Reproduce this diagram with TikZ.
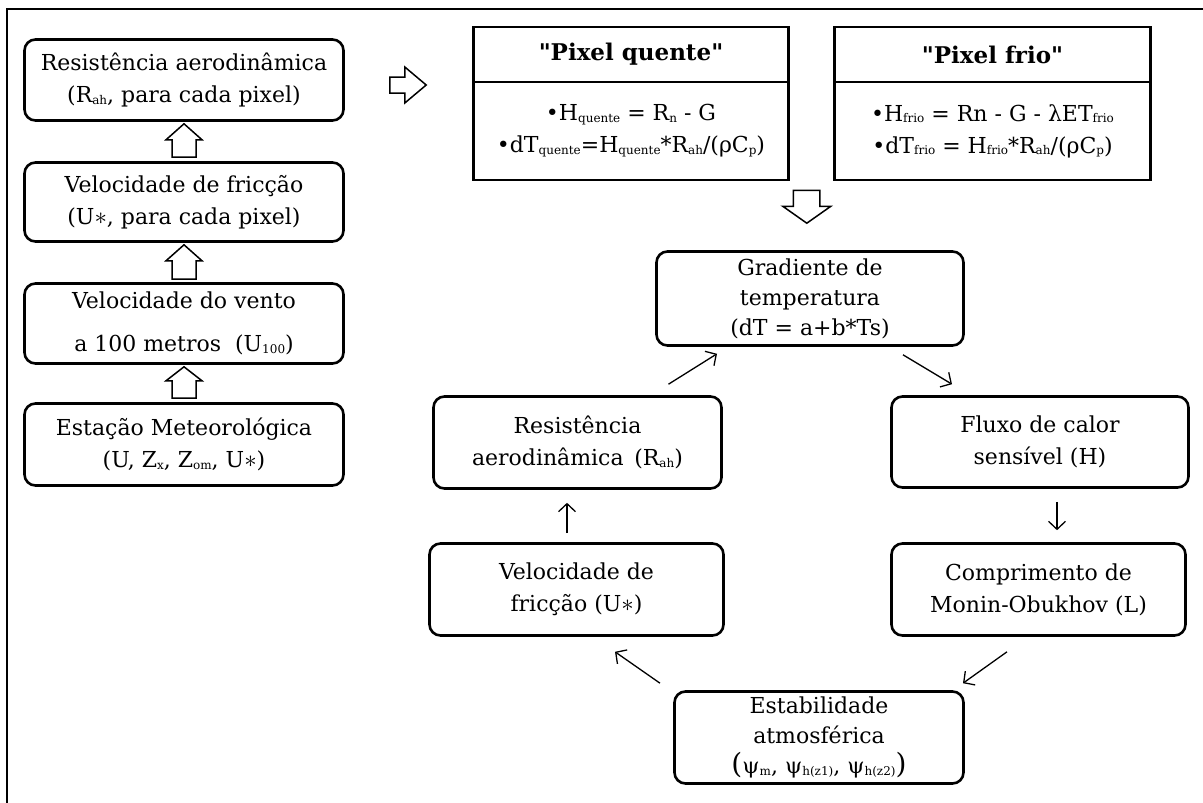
\documentclass[tikz,border=0pt]{standalone}
\usepackage{fontspec}
\setmainfont{DejaVu Serif}
\usetikzlibrary{arrows.meta,calc}
\newcommand\lsub[1]{\raisebox{-1.5pt}{\fontsize{12}{12}\selectfont #1}}
\newcommand\ustar{{\fontsize{28}{28}\selectfont$\ast$}}
\newcommand\fsz{\fontsize{22}{32}\selectfont}
\newcommand\bsz{\fontsize{23}{30}\selectfont\bfseries}
\begin{document}
\begin{tikzpicture}[x=1pt,y=-1pt,
  box/.style={draw, line width=2.6pt, rounded corners=11pt, align=center, inner sep=0pt, font=\fsz},
  pbox/.style={draw, line width=2.6pt, align=center, inner sep=0pt, font=\fsz},
  conn/.style={line width=1.3pt, -{Straight Barb[length=8pt,width=17pt,line width=1.3pt]}},
  hollow/.style={draw, line width=1.5pt, fill=white, line join=miter}]
\useasboundingbox (0,0) rectangle (1203,803);
\draw[line width=2.5pt] (7,803) -- (7,9) -- (1203,9);

% left column
\node[box, minimum width=319pt, minimum height=81pt] (b1) at (184,80)
  {Resistência aerodinâmica\\(R\lsub{ah}, para cada pixel)};
\node[box, minimum width=319pt, minimum height=79pt] (b2) at (184,202)
  {Velocidade de fricção\\(U\ustar, para cada pixel)};
\node[box, minimum width=319pt, minimum height=80pt, font=\fontsize{22}{43}\selectfont] (b3) at (184,323.5)
  {Velocidade do vento\\a 100 metros \ (U\lsub{100})};
\node[box, minimum width=319pt, minimum height=82pt] (b4) at (184,444.5)
  {Estação Meteorológica\\(U, Z\lsub{x}, Z\lsub{om}, U\ustar)};

% pixel boxes
\node[pbox, minimum width=315pt, minimum height=55pt, font=\bsz] (qT) at (631,54.5) {\textquotedbl Pixel quente\textquotedbl};
\node[pbox, minimum width=315pt, minimum height=98pt] (qB) at (631,131)
  {•H\lsub{quente} = R\lsub{n} - G\\•dT\lsub{quente}=H\lsub{quente}*R\lsub{ah}/(ρC\lsub{p})};
\node[pbox, minimum width=316pt, minimum height=55pt, font=\bsz] (fT) at (992.5,54.5) {\textquotedbl Pixel frio\textquotedbl};
\node[pbox, minimum width=316pt, minimum height=98pt] (fB) at (992.5,131)
  {•H\lsub{frio} = Rn - G - λET\lsub{frio}\\•dT\lsub{frio} = H\lsub{frio}*R\lsub{ah}/(ρC\lsub{p})};

% cycle
\node[box, minimum width=307pt, minimum height=94pt, font=\fontsize{22}{30}\selectfont] (grad) at (810,298.5)
  {Gradiente de\\temperatura\\(dT = a+b*Ts)};
\node[box, minimum width=288pt, minimum height=92pt] (rah) at (577.5,442.5)
  {Resistência\\aerodinâmica \,(R\lsub{ah})};
\node[box, minimum width=297pt, minimum height=91pt] (fluxo) at (1040,442)
  {Fluxo de calor\\sensível (H)};
\node[box, minimum width=294pt, minimum height=92pt] (ustar) at (576.5,589.5)
  {Velocidade de\\fricção (U\ustar)};
\node[box, minimum width=294pt, minimum height=92pt] (comp) at (1038.5,589.5)
  {Comprimento de\\Monin-Obukhov (L)};
\node[box, minimum width=289pt, minimum height=92pt, font=\fontsize{22}{30}\selectfont] (estab) at (819,737.5)
  {Estabilidade\\atmosférica\\{\fontsize{22}{22}\selectfont{\fontsize{28}{28}\selectfont(}ψ\lsub{m}, ψ\lsub{h(z1)}, ψ\lsub{h(z2)}{\fontsize{28}{28}\selectfont)}}};

% thin connectors
\draw[conn] ([xshift=91pt,yshift=11pt]rah.north) -- ([xshift=-93pt,yshift=-7pt]grad.south);
\draw[conn] ([xshift=93pt,yshift=-8pt]grad.south) -- ([xshift=-88pt,yshift=11pt]fluxo.north);
\draw[conn] ([xshift=17pt,yshift=-13pt]fluxo.south) -- ([xshift=18.5pt,yshift=12pt]comp.north);
\draw[conn] ([xshift=-31.5pt,yshift=-15pt]comp.south) -- ([xshift=144pt,yshift=7pt]estab.north);
\draw[conn] ([xshift=-159pt,yshift=7pt]estab.north) -- ([xshift=38.5pt,yshift=-15pt]ustar.south);
\draw[conn] ([xshift=-9.5pt,yshift=9pt]ustar.north) -- ([xshift=-10.5pt,yshift=-13pt]rah.south);

% hollow block arrows (left column, upward)
\draw[hollow] let \p1=(b2.north), \p2=(b1.south) in
  (\x1-12pt,\y1+4pt) -- (\x1-12pt,\y2-18pt) -- (\x1-18pt,\y2-18pt) -- (\x1,\y2-2pt)
  -- (\x1+18pt,\y2-18pt) -- (\x1+12pt,\y2-18pt) -- (\x1+12pt,\y1+4pt) -- cycle;
\draw[hollow] let \p1=(b3.north), \p2=(b2.south) in
  (\x1-12pt,\y1+3pt) -- (\x1-12pt,\y2-18pt) -- (\x1-18pt,\y2-18pt) -- (\x1,\y2-2pt)
  -- (\x1+18pt,\y2-18pt) -- (\x1+12pt,\y2-18pt) -- (\x1+12pt,\y1+3pt) -- cycle;
\draw[hollow] let \p1=(b4.north), \p2=(b3.south) in
  (\x1-12pt,\y1+4pt) -- (\x1-12pt,\y2-16pt) -- (\x1-18pt,\y2-16pt) -- (\x1,\y2-2pt)
  -- (\x1+18pt,\y2-16pt) -- (\x1+12pt,\y2-16pt) -- (\x1+12pt,\y1+4pt) -- cycle;
% rightward
\draw[hollow] let \p1=(b1.east), \p2=(qT.west) in
  (\x1+45pt,\y1-13pt) -- (\x1+60pt,\y1-13pt) -- (\x1+60pt,\y1-23pt) -- (\x2-46pt,\y1-5pt)
  -- (\x1+60pt,\y1+13pt) -- (\x1+60pt,\y1+3pt) -- (\x1+45pt,\y1+3pt) -- cycle;
% downward
\draw[hollow] let \p1=(qB.south east), \p2=(grad.north) in
  (\x1+3.5pt,\y1-9pt) -- (\x1+3.5pt,\y1-25pt) -- (\x1-7pt,\y1-25pt) -- (\x1+17pt,\y2+27pt)
  -- (\x1+41pt,\y1-25pt) -- (\x1+30pt,\y1-25pt) -- (\x1+30pt,\y1-9pt) -- cycle;
\end{tikzpicture}
\end{document}
